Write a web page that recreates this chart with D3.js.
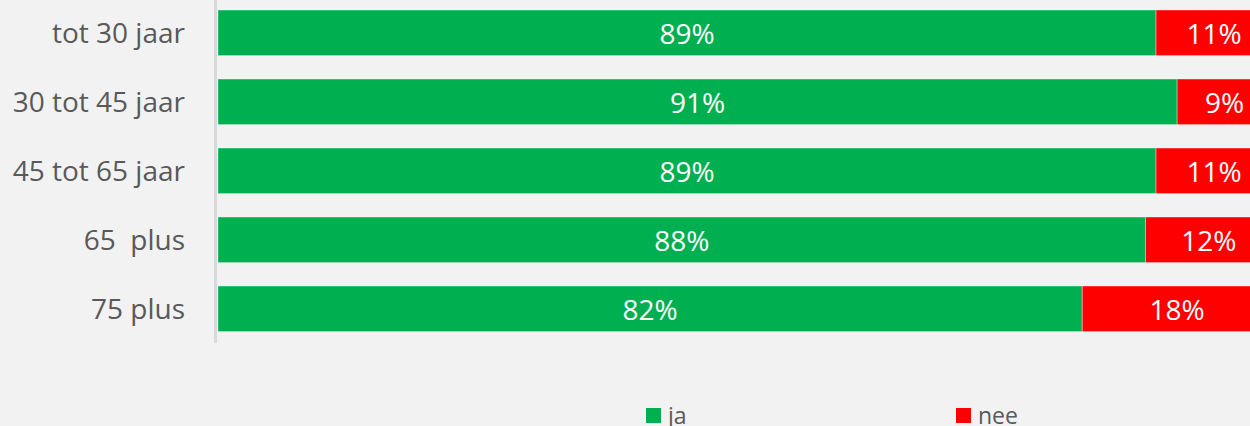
<!DOCTYPE html>
<html>
<head>
<meta charset="utf-8">
<script src="https://cdn.jsdelivr.net/npm/d3@7/dist/d3.min.js"></script>
<style>
  html, body { margin: 0; padding: 0; background: #f2f2f2; }
  svg { display: block; font-family: "Open Sans", sans-serif; }
  text { white-space: pre; }
</style>
</head>
<body>
<svg id="chart" width="1250" height="426"></svg>
<script>
// Age groups and the share answering "ja" / "nee" (percent)
const categories = ["tot 30 jaar", "30 tot 45 jaar", "45 tot 65 jaar", "65  plus", "75 plus"];
const jaValues = [89, 91, 89, 88, 82];
const neeValues = [11, 9, 11, 12, 18];
const seriesNames = ["ja", "nee"];
const seriesColors = ["#00b050", "#ff0000"];

const svg = d3.select("#chart");
const W = 1250, H = 426;

svg.append("rect").attr("width", W).attr("height", H).attr("fill", "#f2f2f2");

// Horizontal scale: the plot runs past the right edge of the canvas
const x = d3.scaleLinear().domain([0, 100]).range([218, 1272]);
const y = d3.scaleBand().domain(categories).range([-1.7, 343.3]).paddingInner(0.34).paddingOuter(0.17);

const rows = categories.map((c, i) => ({ cat: c, ja: jaValues[i], nee: neeValues[i] }));
const stack = d3.stack().keys(["ja", "nee"])(rows);

// Bars with their value labels
stack.forEach((layer, li) => {
  const g = svg.append("g");
  g.selectAll("rect").data(layer).join("rect")
    .attr("x", d => x(d[0]))
    .attr("y", d => y(d.data.cat))
    .attr("width", d => x(d[1]) - x(d[0]))
    .attr("height", y.bandwidth())
    .attr("fill", seriesColors[li])
    .attr("stroke", "rgba(255,255,255,0.35)")
    .attr("stroke-width", 1);
  g.selectAll("text").data(layer).join("text")
    .attr("x", d => (x(d[0]) + x(d[1])) / 2)
    .attr("y", d => y(d.data.cat) + y.bandwidth() / 2 + 11.5)
    .attr("text-anchor", "middle")
    .attr("fill", "#ffffff")
    .attr("font-size", 28)
    .text(d => (d[1] - d[0]) + "%");
});

// Category axis line
svg.append("line")
  .attr("x1", 215.5).attr("x2", 215.5)
  .attr("y1", 0).attr("y2", 343)
  .attr("stroke", "#d9d9d9").attr("stroke-width", 3);

// Category labels
svg.append("g").selectAll("text").data(categories).join("text")
  .attr("x", 185)
  .attr("y", d => y(d) + y.bandwidth() / 2 + 10)
  .attr("text-anchor", "end")
  .attr("fill", "#595959")
  .attr("font-size", 28)
  .text(d => d);

// Legend
const legendX = [646, 956];
const legend = svg.append("g").selectAll("g").data(seriesNames).join("g")
  .attr("transform", (d, i) => `translate(${legendX[i]},408)`);
legend.append("rect").attr("width", 15).attr("height", 15)
  .attr("fill", (d, i) => seriesColors[i]);
legend.append("text").attr("x", 22).attr("y", 15.5)
  .attr("fill", "#595959").attr("font-size", 23)
  .text(d => d);
</script>
</body>
</html>
